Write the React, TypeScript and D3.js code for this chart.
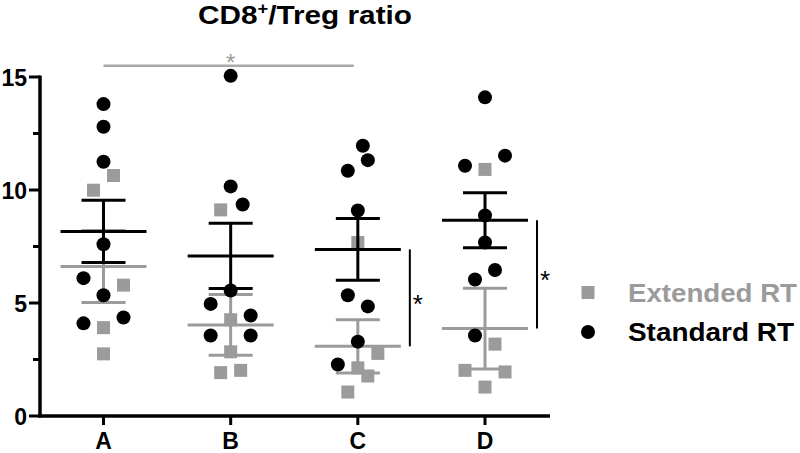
import React from "react";
import * as d3 from "d3";

const categories = ["A", "B", "C", "D"];

// Standard RT (black circles)
const standardA = [13.8, 12.8, 11.25, 7.6, 6.1, 5.34, 4.36, 4.1];
const standardB = [15.05, 10.16, 9.36, 5.55, 4.96, 4.45, 3.56, 3.56];
const standardC = [11.96, 11.32, 10.85, 9.09, 5.34, 4.85, 3.29, 2.28];
const standardD = [14.1, 11.07, 11.52, 8.87, 7.68, 6.46, 6.04, 3.56];
const standardJitterA = [0, 0, 0, 0, -2, 0, 2, -2];
const standardJitterB = [0, 0, 1.2, 0, -2, 2, -2, 2];
const standardJitterC = [0.5, 1, -1, 0, -1, 1, 0, -2];
const standardJitterD = [0, -2, 2, 0, 0, 1, -1, -1];

// Extended RT (grey squares)
const extendedA = [10.64, 9.99, 5.79, 3.91, 2.75];
const extendedB = [9.12, 4.26, 2.84, 1.92, 2.02];
const extendedC = [7.68, 2.77, 2.13, 1.77, 1.06];
const extendedD = [10.91, 3.18, 2.02, 1.95, 1.28];
const extendedJitterA = [1, -1, 2, 0, 0];
const extendedJitterB = [-1, 0, 0, -1, 1];
const extendedJitterC = [0, 2, 0, 1, -1];
const extendedJitterD = [0, 1, -2, 2, 0];

const yTicks = [0, 5, 10, 15];
const yMinorTicks = [2.5, 7.5, 12.5];

const standardSeries = [standardA, standardB, standardC, standardD];
const standardJitter = [standardJitterA, standardJitterB, standardJitterC, standardJitterD];
const extendedSeries = [extendedA, extendedB, extendedC, extendedD];
const extendedJitter = [extendedJitterA, extendedJitterB, extendedJitterC, extendedJitterD];

// significance comparisons
const topComparison = { from: "A", to: "C", level: 15.5, label: "*" };
const withinComparisons = [
  { cat: "C", label: "*", offset: 52 },
  { cat: "D", label: "*", offset: 52 },
];

const GREY = "#9b9b9b";
const FONT = "'Liberation Sans', Arial, Helvetica, sans-serif";

function stats(v: number[]) {
  const m = d3.mean(v) as number;
  const sem = (d3.deviation(v) as number) / Math.sqrt(v.length);
  return { m, sem };
}

export default function App() {
  const W = 800;
  const H = 453;
  const x = d3.scalePoint<string>().domain(categories).range([103.5, 485]);
  const y = d3.scaleLinear().domain([0, 15]).range([416, 77]);
  const jit = 10;
  const meanHalf = 43;
  const capHalf = 22;
  const axisX = 40;

  const errorBars = (series: number[][], color: string, key: string) =>
    series.map((v, i) => {
      const { m, sem } = stats(v);
      const cx = x(categories[i]) as number;
      return (
        <g key={key + i} stroke={color} strokeWidth={3} fill="none">
          <line x1={cx} x2={cx} y1={y(m + sem)} y2={y(m - sem)} />
          <line x1={cx - meanHalf} x2={cx + meanHalf} y1={y(m)} y2={y(m)} />
          <line x1={cx - capHalf} x2={cx + capHalf} y1={y(m + sem)} y2={y(m + sem)} />
          <line x1={cx - capHalf} x2={cx + capHalf} y1={y(m - sem)} y2={y(m - sem)} />
        </g>
      );
    });

  return (
    <svg
      width={W}
      height={H}
      style={{ position: "absolute", left: 0, top: 0, background: "#fff" }}
      fontFamily={FONT}
    >
      <rect width={W} height={H} fill="#fff" />
      {/* title */}
      <text
        x={198}
        y={24}
        fontSize={26}
        fontWeight="bold"
        textLength={214}
        lengthAdjust="spacingAndGlyphs"
      >
        CD8
        <tspan fontSize={16} dy={-10}>+</tspan>
        <tspan dy={10}>/Treg ratio</tspan>
      </text>

      {/* y axis */}
      <line x1={axisX} x2={axisX} y1={y(15) - 1.5} y2={y(0) + 1.5} stroke="#000" strokeWidth={3.5} />
      {yTicks.map((t) => (
        <g key={"yt" + t}>
          <line x1={axisX - 11} x2={axisX} y1={y(t)} y2={y(t)} stroke="#000" strokeWidth={3} />
          <text x={27} y={y(t) + 8.5} fontSize={23} fontWeight="bold" textAnchor="end">
            {t}
          </text>
        </g>
      ))}
      {yMinorTicks.map((t) => (
        <line key={"ym" + t} x1={axisX - 7} x2={axisX} y1={y(t)} y2={y(t)} stroke="#000" strokeWidth={3} />
      ))}

      {/* x axis */}
      <line x1={axisX - 1.5} x2={550} y1={y(0)} y2={y(0)} stroke="#000" strokeWidth={3.5} />
      {categories.map((c) => (
        <g key={"xt" + c}>
          <line x1={x(c)} x2={x(c)} y1={y(0)} y2={y(0) + 9} stroke="#000" strokeWidth={3} />
          <text x={x(c)} y={449} fontSize={23} fontWeight="bold" textAnchor="middle">
            {c}
          </text>
        </g>
      ))}

      {/* extended RT squares */}
      {extendedSeries.map((v, i) =>
        v.map((val, j) => {
          const cx = (x(categories[i]) as number) + extendedJitter[i][j] * jit;
          return (
            <rect key={`e${i}-${j}`} x={cx - 6.5} y={y(val) - 6.5} width={13} height={13} fill={GREY} />
          );
        })
      )}
      {errorBars(extendedSeries, GREY, "ee")}

      {/* standard RT circles */}
      {standardSeries.map((v, i) =>
        v.map((val, j) => {
          const cx = (x(categories[i]) as number) + standardJitter[i][j] * jit;
          return <circle key={`s${i}-${j}`} cx={cx} cy={y(val)} r={7} fill="#000" />;
        })
      )}
      {errorBars(standardSeries, "#000", "se")}

      {/* significance: top bar */}
      <line
        x1={x(topComparison.from)}
        x2={(x(topComparison.to) as number) - 4}
        y1={y(topComparison.level)}
        y2={y(topComparison.level)}
        stroke="#aaaaaa"
        strokeWidth={2.5}
      />
      <text
        x={x("B")}
        y={71}
        fontSize={24}
        fill={GREY}
        textAnchor="middle"
      >
        {topComparison.label}
      </text>

      {/* significance: within groups */}
      {withinComparisons.map((cmp) => {
        const i = categories.indexOf(cmp.cat);
        const a = stats(standardSeries[i]).m;
        const b = stats(extendedSeries[i]).m;
        const lx = (x(cmp.cat) as number) + cmp.offset;
        const midY = (y(a) + y(b)) / 2;
        return (
          <g key={"w" + cmp.cat}>
            <line x1={lx} x2={lx} y1={y(a)} y2={y(b)} stroke="#000" strokeWidth={2} />
            <text x={lx + 8} y={midY + 15} fontSize={26} textAnchor="middle">
              {cmp.label}
            </text>
          </g>
        );
      })}

      {/* legend */}
      <rect x={581.5} y={286} width={13} height={13} fill={GREY} />
      <text x={628} y={302} fontSize={25} fontWeight="bold" fill={GREY} textLength={169} lengthAdjust="spacingAndGlyphs">
        Extended RT
      </text>
      <circle cx={588} cy={332} r={7} fill="#000" />
      <text x={628} y={341} fontSize={25} fontWeight="bold" fill="#000" textLength={166} lengthAdjust="spacingAndGlyphs">
        Standard RT
      </text>
    </svg>
  );
}
